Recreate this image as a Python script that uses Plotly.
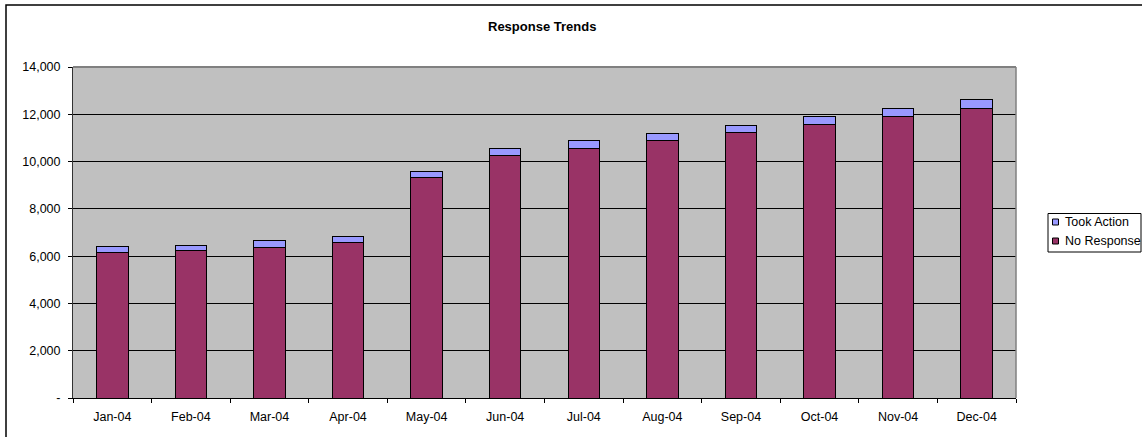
import plotly.graph_objects as go

# Monthly response counts (stacked)
months = ["Jan-04", "Feb-04", "Mar-04", "Apr-04", "May-04", "Jun-04",
          "Jul-04", "Aug-04", "Sep-04", "Oct-04", "Nov-04", "Dec-04"]
no_response = [6150, 6220, 6380, 6590, 9340, 10250,
               10560, 10885, 11225, 11575, 11900, 12240]
took_action = [270, 240, 295, 255, 255, 295,
               340, 295, 310, 340, 355, 395]

series_names = ["No Response", "Took Action"]
series_colors = ["#993366", "#9999FF"]

y_tick_vals = [0, 2000, 4000, 6000, 8000, 10000, 12000, 14000]
y_tick_text = ["-", "2,000", "4,000", "6,000", "8,000", "10,000", "12,000", "14,000"]

FONT = "Liberation Sans, Arial, sans-serif"

fig = go.Figure()
for name, color, vals in zip(series_names, series_colors, [no_response, took_action]):
    fig.add_trace(go.Bar(
        x=months, y=vals, name=name,
        marker=dict(color=color, line=dict(color="#000000", width=1)),
    ))

W, H = 1142, 437
L, R, T, B = 73, 126, 67, 39
pw, ph = W - L - R, H - T - B


def px_x(p):
    return (p - L) / pw


def px_y(p):
    return (H - B - p) / ph


shapes = [
    # chart frame (right and bottom edges run past the page)
    dict(type="rect", xref="paper", yref="paper", layer="below",
         x0=px_x(6), x1=px_x(1160), y0=px_y(5), y1=px_y(460),
         line=dict(color="#000000", width=1.5), fillcolor="rgba(0,0,0,0)"),
    # plot-area border on top and right
    dict(type="line", xref="paper", yref="paper", x0=0, x1=1, y0=1, y1=1,
         line=dict(color="#808080", width=2)),
    dict(type="line", xref="paper", yref="paper", x0=1, x1=1, y0=0, y1=1,
         line=dict(color="#808080", width=1.5)),
    # legend box
    dict(type="rect", xref="paper", yref="paper",
         x0=px_x(1048), x1=px_x(1141), y0=px_y(213.5), y1=px_y(252),
         line=dict(color="#000000", width=1), fillcolor="#FFFFFF"),
]

annotations = [dict(
    text="<b>Response Trends</b>",
    x=px_x(542), y=px_y(27), xref="paper", yref="paper",
    xanchor="center", yanchor="middle", showarrow=False,
    font=dict(family=FONT, size=13, color="#000000"),
)]

# legend entries, top to bottom: last stacked series first
legend_rows = [(1, 222), (0, 241)]
for idx, cy in legend_rows:
    shapes.append(dict(
        type="rect", xref="paper", yref="paper",
        x0=px_x(1052.5), x1=px_x(1058.5), y0=px_y(cy - 3), y1=px_y(cy + 3),
        line=dict(color="#000000", width=1), fillcolor=series_colors[idx],
    ))
    annotations.append(dict(
        text=series_names[idx], x=px_x(1063), y=px_y(cy),
        xref="paper", yref="paper", xanchor="left", yanchor="middle",
        showarrow=False, font=dict(family=FONT, size=12.5, color="#000000"),
    ))

fig.update_layout(
    width=W, height=H,
    margin=dict(l=L, r=R, t=T, b=B, pad=0, autoexpand=False),
    barmode="stack",
    bargap=0.6,
    paper_bgcolor="#FFFFFF",
    plot_bgcolor="#C0C0C0",
    font=dict(family=FONT, size=12.5, color="#000000"),
    showlegend=False,
    xaxis=dict(
        type="category",
        showgrid=False,
        showline=True, linecolor="#000000", linewidth=1,
        ticks="outside", ticklen=4, tickcolor="#000000", tickwidth=1,
        tickson="boundaries",
        ticklabelstandoff=7,
        tickfont=dict(family=FONT, size=12.5, color="#000000"),
        fixedrange=True,
    ),
    yaxis=dict(
        range=[0, 14000],
        tickvals=y_tick_vals, ticktext=y_tick_text,
        showgrid=True, gridcolor="#000000", gridwidth=1,
        showline=True, linecolor="#333333", linewidth=1,
        ticks="outside", ticklen=4, tickcolor="#000000", tickwidth=1,
        ticklabelstandoff=5,
        tickfont=dict(family=FONT, size=12.5, color="#000000"),
        zeroline=False,
        fixedrange=True,
    ),
    annotations=annotations,
    shapes=shapes,
)

fig.write_html("out.html", config={"displayModeBar": False})
